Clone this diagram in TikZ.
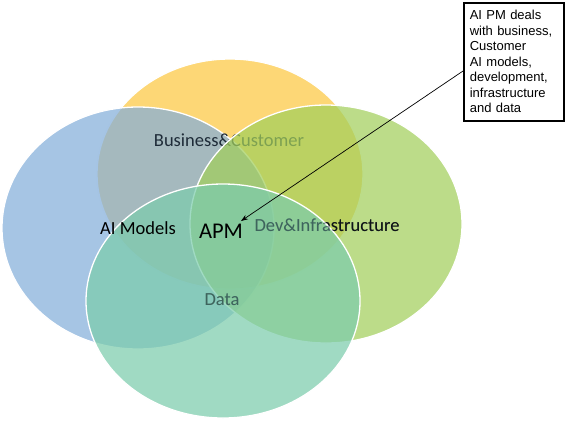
\documentclass[tikz,border=0pt]{standalone}
\usepackage{fontspec}
\setmainfont{Carlito}
\newfontfamily\arialfont{Liberation Sans}
\usetikzlibrary{arrows.meta,calc,shapes.geometric}
\definecolor{cyellow}{HTML}{FCC741}
\definecolor{cblue}{HTML}{83AEDA}
\definecolor{cgreen}{HTML}{A2CF5B}
\definecolor{cteal}{HTML}{7CCCAC}
\definecolor{ctext}{HTML}{1E2B38}
\begin{document}
\begin{tikzpicture}[x=1pt,y=-1pt,
  venn/.style={ellipse, draw=white, line width=1.3pt, fill opacity=0.72, inner sep=0pt},
  lbl/.style={text=ctext, font=\fontsize{18.5}{20}\selectfont, inner sep=1pt},
  ghost/.style={lbl, text=ctext, text opacity=0.45},
  callout/.style={draw=black, line width=1.6pt, align=left, text width=88pt, inner xsep=6pt, inner ysep=4pt, font=\arialfont\fontsize{13}{15.5}\selectfont}]
\useasboundingbox (0,0) rectangle (567,424);
\node[venn, fill=cyellow, minimum width=266pt, minimum height=230pt] (yellow) at (230,174) {};
\node[venn, fill=cblue, minimum width=272pt, minimum height=242pt] (blue) at (138,228) {};
\node[lbl] (bc) at (229,140) {Business\&Customer};
\node[venn, fill=cgreen, minimum width=272pt, minimum height=238pt] (green) at (326,224) {};
\node[lbl, text=black] (dev) at (327,225) {Dev\&Infrastructure};
\node[lbl, text=black] (data) at (222,300) {Data};
\node[venn, fill=cteal, minimum width=274pt, minimum height=234pt] (teal) at (223,301) {};
\node[ghost] (devtop) at (dev) {Dev\&Infrastructure};
\node[ghost] (datatop) at (data) {Data};
\node[lbl, text=black] (aim) at (138,228) {AI Models};
\node[lbl, text=black, font=\fontsize{22.5}{24}\selectfont] (apm) at (221,231) {APM};
\node[callout, anchor=north west, minimum height=118pt] (box) at (463,2) {AI PM deals\\with business,\\Customer\\AI models,\\development,\\infrastructure\\and data};
\coordinate (arrowstart) at ($(box.north west)+(0,69)$);
\coordinate (apmtip) at (241,221);
\draw[-{Stealth[length=7pt,width=5pt]}, line width=0.7pt] (arrowstart) -- (apmtip);
\end{tikzpicture}
\end{document}
